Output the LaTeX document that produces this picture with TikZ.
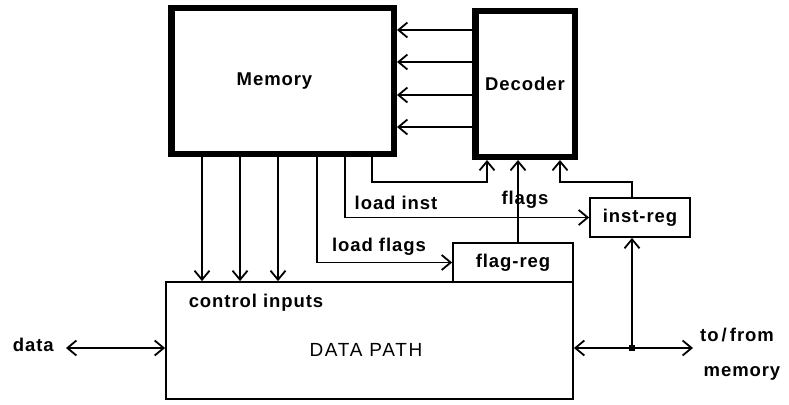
\documentclass[tikz,border=0pt]{standalone}
\usepackage{fontspec}
\setmainfont{Liberation Sans}[LetterSpace=5]
\usetikzlibrary{arrows.meta, positioning, calc}

\begin{document}
\begin{tikzpicture}[
    x=1pt, y=-1pt,
    every node/.style={font=\fontsize{18.5}{20}\selectfont\bfseries},
    bigblk/.style={
        draw=black,
        line width=6.5pt,
        inner sep=0pt
    },
    regblk/.style={
        draw=black,
        line width=1.8pt,
        inner sep=0pt
    },
    lbl/.style={inner sep=1pt},
    junc/.style={fill=black, minimum size=6pt, inner sep=0pt},
    arrow/.style={-{Straight Barb[length=9pt,width=15pt]}, line width=1.8pt},
    darrow/.style={{Straight Barb[length=9pt,width=15pt]}-{Straight Barb[length=9pt,width=15pt]}, line width=1.8pt}
]
\useasboundingbox (0,0) rectangle (789,404);

% blocks
\node[bigblk, minimum width=222.5pt, minimum height=145.5pt] (mem) at (282.5,81) {Memory\hspace*{16pt}};
\node[bigblk, minimum width=99.5pt, minimum height=145.5pt] (dec) at (525,84) {Decoder};
\node[regblk, minimum width=100pt, minimum height=39pt] (inst) at (640,217.5) {inst-reg};
\node[regblk, minimum width=120pt, minimum height=39pt] (flag) at (513,262.5) {flag-reg};
\node[regblk, minimum width=407pt, minimum height=117pt] (dp) at (369.5,340.5) {};

% texts
\node[lbl] (ctrllbl) at (256,303) {control inputs};
\node[lbl, font=\fontsize{19}{21}\selectfont\addfontfeatures{LetterSpace=9}] (dptxt) at (366,350) {DATA PATH};
\node[lbl] (ldinst) at (396,203) {load inst};
\node[lbl] (ldflags) at (379,247) {load flags};
\node[lbl] (flagslbl) at (525,200) {flags};
\node[lbl, anchor=east] (datalbl) at (55,345) {data};
\node[lbl] (tofrom) at (737,335) {to\,/\,from};
\node[lbl] (memlbl) at (742,373) {memory};

% decoder to memory
\foreach \y in {30,62,95,127}
    \draw[arrow] (dec.west |- 0,\y) -- (mem.east |- 0,\y);

% control inputs
\foreach \x in {202,240,278}
    \draw[arrow] (mem.south -| \x,0) -- (dp.north -| \x,0);

\draw[arrow] (mem.south -| 317,0) |- (flag.west);
\draw[arrow] (mem.south -| 345,0) |- (inst.west);
\draw[arrow] (mem.south -| 372,0) |- (487,182) -- (dec.south -| 487,0);
\draw[arrow] (flag.north -| 518,0) -- (dec.south -| 518,0);

% bus side
\node[junc] (jn) at (632,348) {};
\coordinate (datend) at (66,348);
\coordinate (memend) at (693,348);
\draw[darrow] (datend) -- (dp.west |- datend);
\draw[darrow] (dp.east |- memend) -- (memend);
\draw[arrow] (jn) -- (inst.south -| jn);
\draw[arrow] (inst.north -| jn) |- (560,182) -- (dec.south -| 560,0);

\end{tikzpicture}
\end{document}
